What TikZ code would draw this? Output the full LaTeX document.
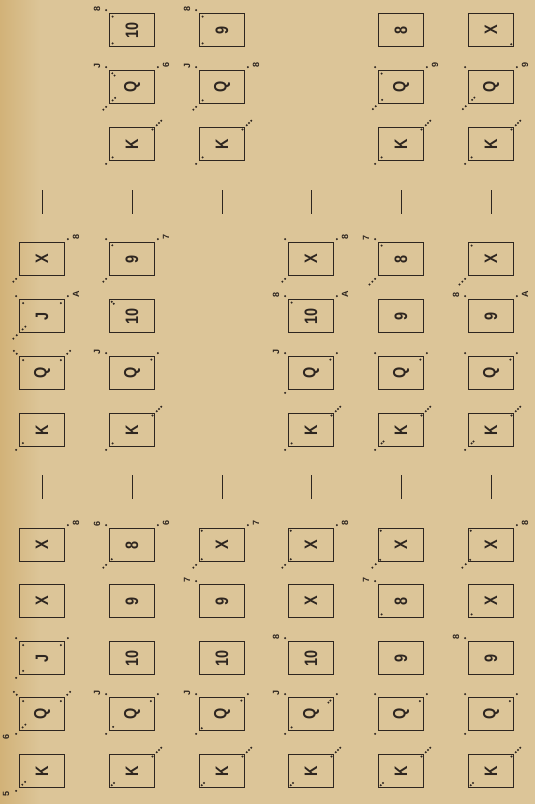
\documentclass[tikz,border=0pt]{standalone}
\usepackage{fontspec}
\setmainfont{Liberation Sans}
\usetikzlibrary{calc}
\definecolor{paper}{HTML}{DCC598}
\definecolor{paperdark}{HTML}{D2B278}
\definecolor{ink}{HTML}{2E2620}
\newcounter{lc}
\newcommand\cardtext[1]{\rotatebox{90}{\scalebox{0.8}[1]{#1}}}
\newcommand\card[4]{\node[card] (#1) at (#2,-#3) {\cardtext{#4}};}
\newcommand\cmarks[4]{\foreach \m in {#4}{\fill[ink] ($(#1.#2)+{2.8*\m}*(#3)$) circle (1.1pt);}}
\newcommand\mkNE[2]{\cmarks{#1}{north east}{1,1}{#2}}
\newcommand\mkNW[2]{\cmarks{#1}{north west}{-1,1}{#2}}
\newcommand\mkSW[2]{\cmarks{#1}{south west}{-1,-1}{#2}}
\newcommand\mkSE[2]{\cmarks{#1}{south east}{1,-1}{#2}}
\newcommand\kdiag[1]{\mkNE{#1}{0.6,1.4,2.2,-0.9}}
\newcommand\clab[4]{\stepcounter{lc}\node[lbl] (lab\arabic{lc}) at ($(#1.#2)+(#3)$) {#4};}
\newcommand\labNE[2]{\clab{#1}{north east}{11,5}{#2}}
\newcommand\labNW[2]{\clab{#1}{north west}{-12,4}{#2}}
\newcommand\labSW[2]{\clab{#1}{south west}{-13,-6}{#2}}
\newcommand\dashat[2]{\draw[dashmark] (#1,-#2+12) -- (#1,-#2-12);}
\tikzset{
 card/.style={draw=ink, line width=1.1pt, minimum width=45pt, minimum height=33pt,
   inner sep=0pt, text=ink, font=\fontsize{18}{18}\selectfont\bfseries},
 lbl/.style={inner sep=0pt, text=ink, font=\fontsize{9}{9}\selectfont\bfseries, rotate=90},
 dashmark/.style={draw=ink, line width=1pt},
}
\begin{document}
\begin{tikzpicture}[x=1pt,y=1pt]
\useasboundingbox (0,0) rectangle (535,-804);
\fill[paper] (0,0) rectangle (535,-804);
\shade[left color=paperdark, right color=paper] (0,0) rectangle (40,-804);
% ---------- column 1 ----------
\card{a0}{42}{771}{K} \mkSW{a0}{1,-1.2,-2.2} \labSW{a0}{5}
\card{a1}{42}{714}{Q} \mkNW{a1}{0.8,1.8,-1.5} \mkNE{a1}{0.8,1.8,-1.5} \mkSW{a1}{1,-1.3,-2.3} \labSW{a1}{6}
\card{a2}{42}{658}{J} \mkNW{a2}{1,-1.5} \mkNE{a2}{1,-1.5} \mkSW{a2}{1,-1.5}
\card{a3}{42}{601}{X}
\card{a4}{42}{545}{X} \mkNE{a4}{1} \labNE{a4}{8}
\dashat{42}{487}
\card{a6}{42}{430}{K} \mkSW{a6}{1,-1.4}
\card{a7}{42}{373}{Q} \mkNW{a7}{0.8,1.8,-1.5} \mkNE{a7}{0.8,1.8,-1.5}
\card{a8}{42}{316}{J} \mkNW{a8}{1,-1.5} \mkNE{a8}{1,-1.5} \labNE{a8}{A} \mkSW{a8}{0.8,2,-1.3,-2.3}
\card{a9}{42}{259}{X} \mkNE{a9}{1} \labNE{a9}{8} \mkSW{a9}{1,2}
\dashat{42}{202}
% ---------- column 2 ----------
\card{b0}{132}{771}{K} \kdiag{b0} \mkSW{b0}{-1,-1.8}
\card{b1}{132}{714}{Q} \mkNW{b1}{1} \labNW{b1}{J} \mkNE{b1}{1,-1.5} \mkSW{b1}{1,-1.5}
\card{b2}{132}{658}{10}
\card{b3}{132}{601}{9}
\card{b4}{132}{545}{8} \mkNW{b4}{1} \labNW{b4}{6} \mkNE{b4}{1} \labNE{b4}{6} \mkSW{b4}{1,2,-1}
\dashat{132}{487}
\card{b6}{132}{430}{K} \kdiag{b6} \mkSW{b6}{1,-1.3}
\card{b7}{132}{373}{Q} \mkNW{b7}{1} \labNW{b7}{J} \mkNE{b7}{1,-1.3}
\card{b8}{132}{316}{10} \mkNW{b8}{-1,-1.7}
\card{b9}{132}{259}{9} \mkNE{b9}{1} \labNE{b9}{7} \mkNW{b9}{1,-1.2} \mkSW{b9}{1,2}
\dashat{132}{202}
\card{b11}{132}{144}{K} \kdiag{b11} \mkSW{b11}{1,-1.3}
\card{b12}{132}{87}{Q} \mkNW{b12}{1,-1.2,-2} \labNW{b12}{J} \mkNE{b12}{1} \labNE{b12}{6} \mkSW{b12}{1,2,-1.3,-2.2}
\card{b13}{132}{30}{10} \mkNW{b13}{1,-1.3} \labNW{b13}{8} \mkSW{b13}{-1.3}
% ---------- column 3 ----------
\card{c0}{222}{771}{K} \kdiag{c0} \mkSW{c0}{-1,-1.8}
\card{c1}{222}{714}{Q} \mkNW{c1}{1} \labNW{c1}{J} \mkNE{c1}{1,-1.3} \mkSW{c1}{1,-1}
\card{c2}{222}{658}{10}
\card{c3}{222}{601}{9} \mkNW{c3}{1} \labNW{c3}{7}
\card{c4}{222}{545}{X} \mkNW{c4}{-1} \mkNE{c4}{1} \labNE{c4}{7} \mkSW{c4}{1,2,-1}
\dashat{222}{487}
\dashat{222}{202}
\card{c11}{222}{144}{K} \kdiag{c11} \mkSW{c11}{1,-1.3}
\card{c12}{222}{87}{Q} \mkNW{c12}{1} \labNW{c12}{J} \mkNE{c12}{1} \labNE{c12}{8} \mkSW{c12}{1,2,-1.3}
\card{c13}{222}{30}{9} \mkNW{c13}{1,-1.3} \labNW{c13}{8} \mkSW{c13}{-1.3}
% ---------- column 4 ----------
\card{d0}{311}{771}{K} \kdiag{d0} \mkSW{d0}{-1,-1.8}
\card{d1}{311}{714}{Q} \mkNW{d1}{1} \labNW{d1}{J} \mkNE{d1}{1,-1.3,-2} \mkSW{d1}{1,-1.3}
\card{d2}{311}{658}{10} \mkNW{d2}{1} \labNW{d2}{8}
\card{d3}{311}{601}{X}
\card{d4}{311}{545}{X} \mkSW{d4}{1,2,-1} \mkNE{d4}{1} \labNE{d4}{8} \mkNW{d4}{-1}
\dashat{311}{487}
\card{d6}{311}{430}{K} \kdiag{d6} \mkSW{d6}{1,-1.3}
\card{d7}{311}{373}{Q} \mkNW{d7}{1} \labNW{d7}{J} \mkNE{d7}{1,-1.3} \mkSW{d7}{1}
\card{d8}{311}{316}{10} \mkNW{d8}{1,-1.3} \labNW{d8}{8} \mkNE{d8}{1} \labNE{d8}{A}
\card{d9}{311}{259}{X} \mkNW{d9}{1} \mkNE{d9}{1} \labNE{d9}{8} \mkSW{d9}{1,2}
\dashat{311}{202}
% ---------- column 5 ----------
\card{e0}{401}{771}{K} \kdiag{e0} \mkSW{e0}{-1,-1.8}
\card{e1}{401}{714}{Q} \mkNW{e1}{1} \mkNE{e1}{1,-1.5} \mkSW{e1}{1}
\card{e2}{401}{658}{9}
\card{e3}{401}{601}{8} \mkNW{e3}{1} \labNW{e3}{7} \mkSW{e3}{-1.3}
\card{e4}{401}{545}{X} \mkSW{e4}{0.8,2,-0.8} \mkNW{e4}{-1}
\dashat{401}{487}
\card{e6}{401}{430}{K} \kdiag{e6} \mkSW{e6}{1,-1.3,-2}
\card{e7}{401}{373}{Q} \mkNW{e7}{1} \mkNE{e7}{1,-1.3}
\card{e8}{401}{316}{9}
\card{e9}{401}{259}{8} \mkNW{e9}{1,-1.3} \labNW{e9}{7} \mkSW{e9}{1,2,3}
\dashat{401}{202}
\card{e11}{401}{144}{K} \kdiag{e11} \mkSW{e11}{1,-1.3}
\card{e12}{401}{87}{Q} \mkNW{e12}{1,-1.3} \mkNE{e12}{1} \labNE{e12}{9} \mkSW{e12}{0.8,1.8,-1.5}
\card{e13}{401}{30}{8}
% ---------- column 6 ----------
\card{f0}{491}{771}{K} \kdiag{f0} \mkSW{f0}{-1,-1.8}
\card{f1}{491}{714}{Q} \mkNW{f1}{1} \mkNE{f1}{1,-1.5} \mkSW{f1}{1}
\card{f2}{491}{658}{9} \mkNW{f2}{1} \labNW{f2}{8}
\card{f3}{491}{601}{X} \mkSW{f3}{-1.3}
\card{f4}{491}{545}{X} \mkSW{f4}{0.8,2,-0.8} \mkNW{f4}{-1} \mkNE{f4}{1} \labNE{f4}{8}
\dashat{491}{487}
\card{f6}{491}{430}{K} \kdiag{f6} \mkSW{f6}{1,-1.3,-2}
\card{f7}{491}{373}{Q} \mkNW{f7}{1} \mkNE{f7}{1,-1.3}
\card{f8}{491}{316}{9} \mkNW{f8}{1} \labNW{f8}{8} \mkNE{f8}{1} \labNE{f8}{A}
\card{f9}{491}{259}{X} \mkNW{f9}{-1.3} \mkSW{f9}{1,2,3}
\dashat{491}{202}
\card{f11}{491}{144}{K} \kdiag{f11} \mkSW{f11}{1,-1.3}
\card{f12}{491}{87}{Q} \mkNW{f12}{1} \mkNE{f12}{1} \labNE{f12}{9} \mkSW{f12}{0.8,1.8,-1.5,-2.3}
\card{f13}{491}{30}{X} \mkSE{f13}{-1}
\end{tikzpicture}
\end{document}
